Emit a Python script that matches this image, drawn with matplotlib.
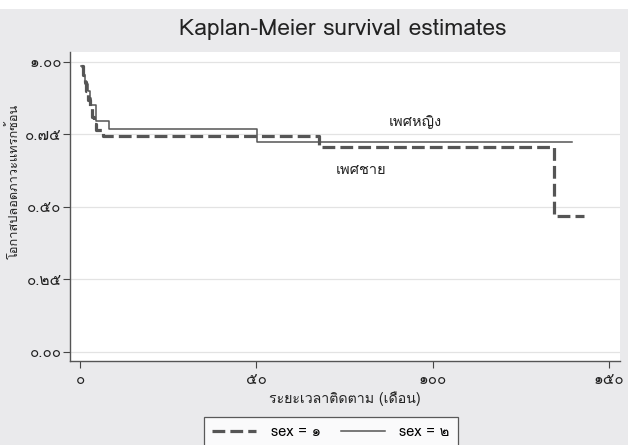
import matplotlib
matplotlib.use("Agg")
import matplotlib.pyplot as plt
from matplotlib import font_manager
from matplotlib.ft2font import FT2Font

# ---------------- data ----------------
title = "Kaplan-Meier survival estimates"
xlabel = "ระยะเวลาติดตาม (เดือน)"
ylabel = "โอกาสปลอดภาวะแทรกซ้อน"
x_ticks = [0, 50, 100, 150]
x_tick_labels = ["๐", "๕๐", "๑๐๐", "๑๕๐"]
y_ticks = [0.0, 0.25, 0.5, 0.75, 1.0]
y_tick_labels = ["๐.๐๐", "๐.๒๕", "๐.๕๐", "๐.๗๕", "๑.๐๐"]

# sex = 1 (dashed)
t_sex1 = [0.3, 0.8, 1.3, 1.8, 2.3, 2.8, 3.4, 3.9, 4.6, 6.5, 67.8, 134.5, 143.0]
s_sex1 = [0.985, 0.955, 0.93, 0.90, 0.87, 0.84, 0.81, 0.785, 0.764, 0.746, 0.707, 0.469, 0.469]
# sex = 2 (solid)
t_sex2 = [0.4, 0.9, 1.5, 2.2, 2.8, 3.1, 4.5, 8.3, 50.1, 139.5]
s_sex2 = [0.985, 0.955, 0.925, 0.90, 0.874, 0.851, 0.796, 0.767, 0.722, 0.722]

legend_labels = ["sex = ๑", "sex = ๒"]
label_female = "เพศหญิง"
label_male = "เพศชาย"
label_female_pos = (95.0, 0.793)
label_male_pos = (79.7, 0.627)

# ---------------- fonts ----------------
def has_thai(path):
    try:
        f = FT2Font(path)
        cm = f.get_charmap()
        return 0x0E01 in cm and 0x0E51 in cm
    except Exception:
        return False

thai_fams = []
for fe in font_manager.fontManager.ttflist:
    if fe.name not in thai_fams and has_thai(fe.fname):
        thai_fams.append(fe.name)
fams = thai_fams[:1] + ["DejaVu Sans"]
plt.rcParams["font.family"] = fams

# ---------------- figure ----------------
W, H = 628, 445
fig = plt.figure(figsize=(W / 100, H / 100), dpi=100)
bg = "#EAEAEC"
fig.patch.set_facecolor(bg)
fig.add_artist(plt.Rectangle((0, 1 - 9 / H), 1, 9 / H, transform=fig.transFigure,
                             facecolor="white", edgecolor="none", zorder=0))

ax = fig.add_axes([70 / W, (H - 361) / H, 550 / W, 309 / H])
ax.set_facecolor("white")

line_col = "#555555"
ax.step(t_sex1, s_sex1, where="post", color=line_col, lw=2.3,
        linestyle=(0, (4.0, 1.6)), label=legend_labels[0], zorder=3)
ax.step(t_sex2, s_sex2, where="post", color=line_col, lw=1.1,
        linestyle="-", label=legend_labels[1], zorder=3)

ax.set_xlim(-2.84, 153.1)
ax.set_ylim(-0.0328, 1.0345)

ax.set_xticks(x_ticks)
ax.set_xticklabels(x_tick_labels)
ax.set_yticks(y_ticks)
ax.set_yticklabels(y_tick_labels)
ax.tick_params(axis="both", direction="out", length=5, width=0.8, color="#444444",
               labelsize=11, labelcolor="#222222")
ax.tick_params(axis="x", pad=4)
ax.tick_params(axis="y", pad=1)
ax.grid(axis="y", color="#E3E3E3", lw=0.9, zorder=0)
ax.grid(axis="x", visible=False)

for side in ["top", "right"]:
    ax.spines[side].set_visible(False)
for side in ["left", "bottom"]:
    ax.spines[side].set_color("#555555")
    ax.spines[side].set_linewidth(1.0)

ax.set_xlabel(xlabel, fontsize=10.2, color="#222222", labelpad=3)
ax.set_ylabel(ylabel, fontsize=9.2, color="#222222")
ax.yaxis.set_label_coords((21 - 70) / 550, (361 - 181) / 309)

fig.text(343 / W, 1 - 30 / H, title, ha="center", va="center", fontsize=16.5,
         color="#222222")

ax.text(*label_female_pos, label_female, ha="center", va="center", fontsize=10.5,
        color="#222222")
ax.text(*label_male_pos, label_male, ha="center", va="center", fontsize=10.5,
        color="#222222")

leg = fig.legend(loc="upper center", bbox_to_anchor=(331 / W, 1 - 417 / H), ncol=2,
                 frameon=True, fancybox=False, edgecolor="#333333", facecolor="white",
                 fontsize=10.5, handlelength=3.0, columnspacing=1.4, borderpad=0.55,
                 handletextpad=1.0, borderaxespad=0)
leg.get_frame().set_linewidth(0.9)

fig.savefig("out.png", dpi=100, facecolor=fig.get_facecolor())
